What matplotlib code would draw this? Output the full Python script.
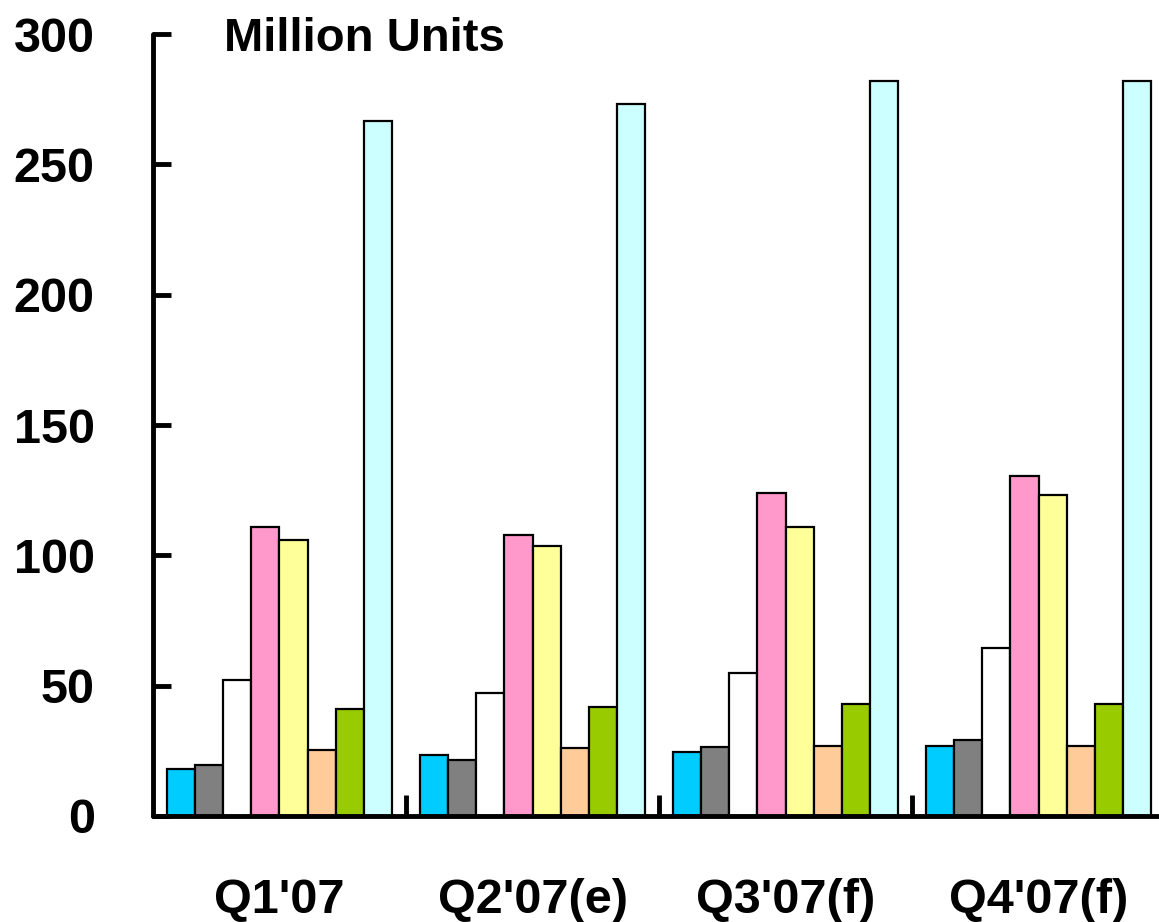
import matplotlib.pyplot as plt
import numpy as np

plt.rcParams['font.family'] = ['Liberation Sans', 'DejaVu Sans']

quarters = ["Q1'07", "Q2'07(e)", "Q3'07(f)", "Q4'07(f)"]

# one list per bar colour, values per quarter (million units)
series_cyan = [18, 23.5, 24.5, 27]
series_gray = [19.5, 21.5, 26.5, 29]
series_white = [52, 47, 55, 64.5]
series_pink = [111, 108, 124, 130.5]
series_yellow = [106, 103.5, 111, 123]
series_peach = [25.5, 26, 27, 27]
series_green = [41, 42, 43, 43]
series_lightcyan = [266.5, 273, 282, 282]

allSeries = [series_cyan, series_gray, series_white, series_pink,
             series_yellow, series_peach, series_green, series_lightcyan]
colors = ['#00CCFF', '#808080', '#FFFFFF', '#FF99CC',
          '#FFFF99', '#FFCC99', '#99CC00', '#CCFFFF']

fig = plt.figure(figsize=(11.59, 9.22), dpi=100)
ax = fig.add_axes([0.132, 0.115, 0.868, 0.848])

x = np.arange(len(quarters))
barWidth = 0.111
for i, (vals, col) in enumerate(zip(allSeries, colors)):
    offset = (i - 3.5) * barWidth
    ax.bar(x + offset, vals, barWidth, color=col, edgecolor='black', linewidth=1.6, zorder=2)

ax.set_xlim(-0.5, 3.476)
ax.set_ylim(0, 300)

for side in ['top', 'right']:
    ax.spines[side].set_visible(False)
for side in ['left', 'bottom']:
    ax.spines[side].set_linewidth(3.5)
    ax.spines[side].set_capstyle('round')

ax.set_yticks(range(0, 301, 50))
ax.tick_params(axis='y', direction='in', length=13, width=3.5, pad=42, labelsize=35)
for lab in ax.get_yticklabels():
    lab.set_fontweight('bold')

ax.set_xticks(x)
ax.set_xticklabels(quarters, fontsize=35, fontweight='bold')
ax.tick_params(axis='x', which='major', length=0, pad=45)
ax.set_xticks([0.5, 1.5, 2.5], minor=True)
ax.tick_params(axis='x', which='minor', direction='in', length=15, width=3.5)

fig.text(0.193, 0.958, 'Million Units', fontsize=34, fontweight='bold', ha='left', va='center')

fig.savefig('out.png', dpi=100)
